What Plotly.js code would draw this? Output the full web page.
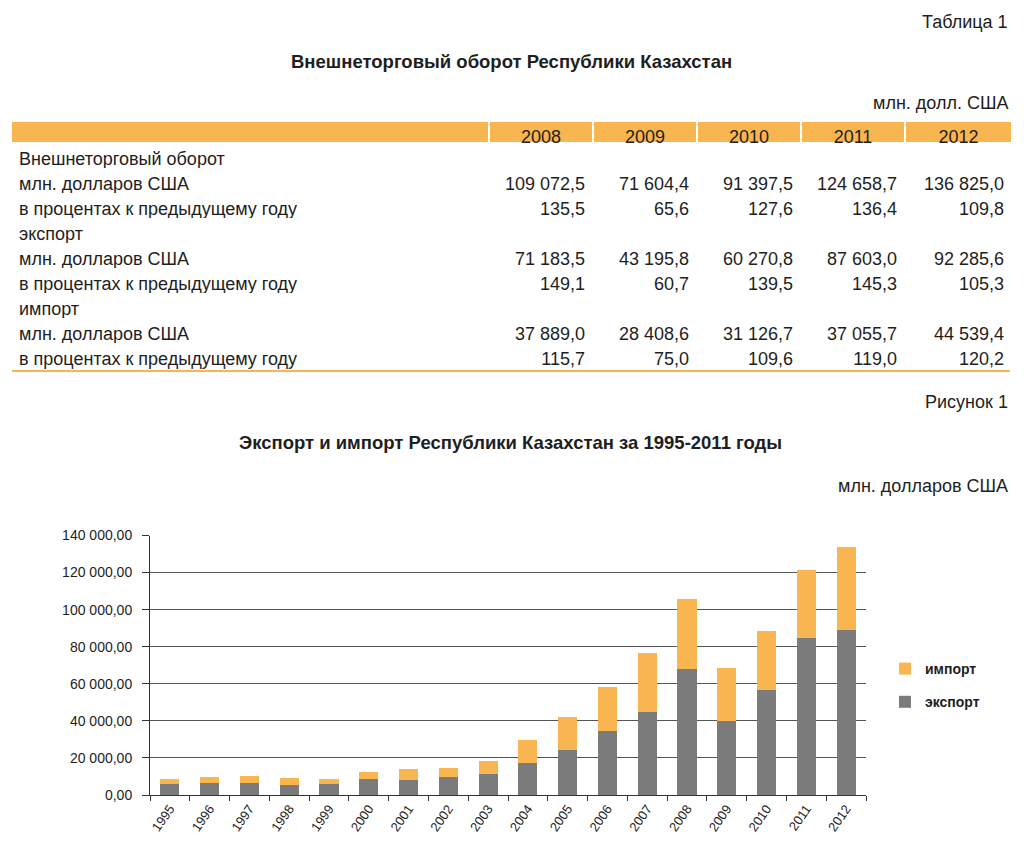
<!DOCTYPE html>
<html>
<head>
<meta charset="utf-8">
<script src="https://cdn.plot.ly/plotly-3.0.1.min.js"></script>
<style>
html,body{margin:0;padding:0;background:#fff;}
#chart{width:1024px;height:848px;}
</style>
</head>
<body>
<div id="chart"></div>
<script>
// ---------- Table data ----------
var tableYears = ['2008', '2009', '2010', '2011', '2012'];
var rowLabels = [
  'Внешнеторговый оборот',
  'млн. долларов США',
  'в процентах к предыдущему году',
  'экспорт',
  'млн. долларов США',
  'в процентах к предыдущему году',
  'импорт',
  'млн. долларов США',
  'в процентах к предыдущему году'
];
var turnoverUsd = [109072.5, 71604.4, 91397.5, 124658.7, 136825.0];
var turnoverPct = [135.5, 65.6, 127.6, 136.4, 109.8];
var exportUsd   = [71183.5, 43195.8, 60270.8, 87603.0, 92285.6];
var exportPct   = [149.1, 60.7, 139.5, 145.3, 105.3];
var importUsd   = [37889.0, 28408.6, 31126.7, 37055.7, 44539.4];
var importPct   = [115.7, 75.0, 109.6, 119.0, 120.2];

// ---------- Chart data (million USD) ----------
var chartYears = ['1995','1996','1997','1998','1999','2000','2001','2002','2003',
                  '2004','2005','2006','2007','2008','2009','2010','2011','2012'];
var exportVals = [5900, 6500, 6500, 5600, 6100, 8700, 8300, 9600, 11600,
                  17500, 24300, 34800, 44600, 67800, 40000, 56900, 84500, 89200];
var importVals = [3000, 3300, 3700, 3700, 2800, 3700, 5500, 5100, 6800,
                  12100, 17800, 23500, 32200, 38200, 28300, 31700, 37100, 44400];

var ORANGE = '#f9b54f';
var GRAY = '#7b7b7b';
var TXT = '#1e1e1e';
var FONT = 'Liberation Sans, Arial, sans-serif';

function fmt1(v) {
  var s = v.toFixed(1).split('.');
  var intPart = s[0].replace(/\B(?=(\d{3})+(?!\d))/g, ' ');
  return intPart + ',' + s[1];
}

var tableCols = [rowLabels];
for (var i = 0; i < tableYears.length; i++) {
  tableCols.push(['', fmt1(turnoverUsd[i]), fmt1(turnoverPct[i]),
                  '', fmt1(exportUsd[i]), fmt1(exportPct[i]),
                  '', fmt1(importUsd[i]), fmt1(importPct[i])]);
}

var H = 848, W = 1024;
function py(p) { return 1 - p / H; }
function px(p) { return p / W; }

var tableTrace = {
  type: 'table',
  domain: {x: [px(11), px(1012)], y: [py(374), py(121)]},
  columnwidth: [478, 104, 104, 104, 104, 107],
  header: {
    values: [''].concat(tableYears),
    align: ['left', 'center'],
    height: 22,
    fill: {color: ORANGE},
    line: {color: '#ffffff', width: 2},
    font: {family: FONT, size: 18, color: TXT}
  },
  cells: {
    values: tableCols,
    align: ['left', 'right'],
    height: 25,
    fill: {color: '#ffffff'},
    line: {color: '#ffffff', width: 0},
    font: {family: FONT, size: 18, color: TXT}
  }
};

var exportTrace = {
  type: 'bar', name: 'экспорт', x: chartYears, y: exportVals,
  legendgroup: 'export', legendrank: 2,
  marker: {color: GRAY}, xaxis: 'x', yaxis: 'y'
};
var importTrace = {
  type: 'bar', name: 'импорт', x: chartYears, y: importVals,
  legendgroup: 'import', legendrank: 1,
  marker: {color: ORANGE}, xaxis: 'x', yaxis: 'y'
};

var layout = {
  width: W, height: H,
  margin: {l: 0, r: 0, t: 0, b: 0},
  paper_bgcolor: '#ffffff', plot_bgcolor: '#ffffff',
  separators: ', ',
  font: {family: FONT, color: TXT},
  barmode: 'stack',
  bargap: 0.52,
  showlegend: true,
  legend: {
    x: px(885), y: py(653), xanchor: 'left', yanchor: 'top',
    traceorder: 'grouped',
    tracegroupgap: 12,
    font: {family: FONT, size: 14, color: TXT, weight: 'bold'},
    itemwidth: 30,
    bgcolor: 'rgba(0,0,0,0)'
  },
  xaxis: {
    domain: [px(150), px(866)],
    type: 'category',
    tickangle: -55,
    tickson: 'boundaries',
    ticks: 'outside', ticklen: 5, tickcolor: '#333', tickwidth: 1,
    showline: true, linecolor: '#333', linewidth: 1,
    showgrid: false,
    tickfont: {family: FONT, size: 13, color: TXT},
    fixedrange: true
  },
  yaxis: {
    domain: [py(795), py(535.5)],
    range: [0, 140000],
    tickvals: [0, 20000, 40000, 60000, 80000, 100000, 120000, 140000],
    tickformat: ',.2f',
    ticks: 'outside', ticklen: 7, tickcolor: '#333', tickwidth: 1,
    ticklabelstandoff: 7,
    showline: true, linecolor: '#333', linewidth: 1,
    showgrid: true, gridcolor: '#555', gridwidth: 1,
    zeroline: false,
    tickfont: {family: FONT, size: 14, color: TXT},
    fixedrange: true
  },
  shapes: [
    {type: 'line', xref: 'paper', yref: 'paper', x0: px(12), x1: px(1010),
     y0: py(371), y1: py(371), line: {color: ORANGE, width: 2}}
  ],
  annotations: [
    {text: 'Таблица 1', x: px(1010), y: py(22), xref: 'paper', yref: 'paper',
     xanchor: 'right', yanchor: 'middle', showarrow: false,
     font: {family: FONT, size: 18, color: TXT}},
    {text: '<b>Внешнеторговый оборот Республики Казахстан</b>', x: px(511), y: py(62),
     xref: 'paper', yref: 'paper', xanchor: 'center', yanchor: 'middle', showarrow: false,
     font: {family: FONT, size: 18.5, color: TXT}},
    {text: 'млн. долл. США', x: px(1010), y: py(103), xref: 'paper', yref: 'paper',
     xanchor: 'right', yanchor: 'middle', showarrow: false,
     font: {family: FONT, size: 18, color: TXT}},
    {text: 'Рисунок 1', x: px(1010), y: py(402), xref: 'paper', yref: 'paper',
     xanchor: 'right', yanchor: 'middle', showarrow: false,
     font: {family: FONT, size: 18, color: TXT}},
    {text: '<b>Экспорт и импорт Республики Казахстан за 1995-2011 годы</b>', x: px(510), y: py(442),
     xref: 'paper', yref: 'paper', xanchor: 'center', yanchor: 'middle', showarrow: false,
     font: {family: FONT, size: 18.5, color: TXT}},
    {text: 'млн. долларов США', x: px(1010), y: py(486), xref: 'paper', yref: 'paper',
     xanchor: 'right', yanchor: 'middle', showarrow: false,
     font: {family: FONT, size: 18, color: TXT}}
  ]
};

Plotly.newPlot('chart', [tableTrace, exportTrace, importTrace], layout,
  {displayModeBar: false, staticPlot: true});
</script>
</body>
</html>
